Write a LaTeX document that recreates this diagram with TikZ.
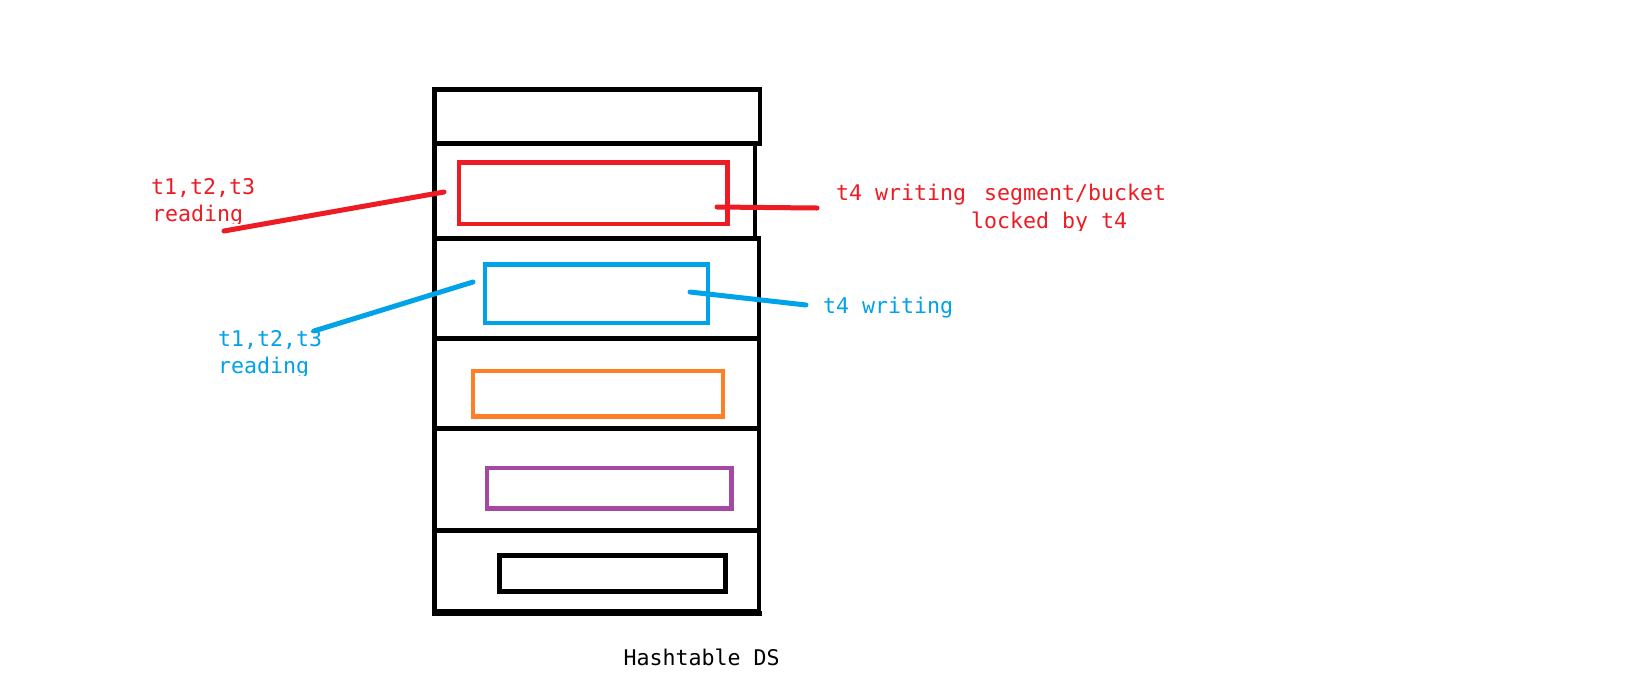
\documentclass[tikz,border=0pt]{standalone}
\usepackage{fontspec}
\newfontfamily\monofont{DejaVu Sans Mono}
\definecolor{pred}{HTML}{ED1C24}
\definecolor{pblue}{HTML}{00A2E8}
\definecolor{porange}{HTML}{FF7F27}
\definecolor{ppurple}{HTML}{A349A4}
\begin{document}
\begin{tikzpicture}[x=1pt,y=-1pt,
  lbl/.style={font=\monofont\fontsize{21.6}{27}\selectfont, anchor=base west, inner sep=0pt, outer sep=0pt},
  tbl/.style={line width=4.8pt, draw=black, line cap=rect, line join=miter},
  slot/.style={line width=4.4pt, fill=none, inner sep=0pt, outer sep=0pt, line join=miter},
  link/.style={line width=5pt, line cap=round}]
\useasboundingbox[fill=white] (0,0) rectangle (1643,686);

% table outline and dividers
\draw[tbl] (434.3,89.8) -- (760,89.8) -- (760,143.8);
\draw[tbl] (755,143.8) -- (755,238.8);
\draw[tbl] (759,238.8) -- (759,611.5);
\draw[tbl] (434.3,89.8) -- (434.3,611.5) -- (759,611.5);
\draw[line width=5pt, line cap=rect] (434.3,613) -- (759.5,613);
\foreach \yy/\xr in {143.8/760, 238.8/759, 338.7/759, 428.5/759, 530.3/759}
  \draw[tbl] (434.3,\yy) -- (\xr,\yy);

% slots
\node[slot, draw=pred,    minimum width=268.5pt, minimum height=61.3pt] (redbox)    at (593.2,193.3) {};
\node[slot, draw=pblue,   minimum width=223pt,   minimum height=58.4pt] (bluebox)   at (596.2,293.5) {};
\node[slot, draw=porange, minimum width=250.5pt, minimum height=45.7pt] (orangebox) at (598,393.7) {};
\node[slot, draw=ppurple, minimum width=244.6pt, minimum height=40.8pt] (purplebox) at (609,488.1) {};
\node[slot, draw=black, line width=4.7pt, minimum width=226pt, minimum height=35.6pt] (blackbox) at (612.7,573.5) {};

% labels
\node[lbl, text=pred] (rr1) at (151,194) {t1,t2,t3};
\begin{scope}
  \clip (100,200) rectangle (400,223.5);
  \node[lbl, text=pred] (rr2) at (152,221) {reading};
\end{scope}
\node[lbl, text=pblue] (br1) at (218,346) {t1,t2,t3};
\begin{scope}
  \clip (150,350) rectangle (400,375.5);
  \node[lbl, text=pblue] (br2) at (218,373) {reading};
\end{scope}
\node[lbl, text=pred] (rw1) at (836,200) {t4 writing\kern5pt{} segment/bucket};
\begin{scope}
  \clip (900,205) rectangle (1200,230.5);
  \node[lbl, text=pred] (rw2) at (971,228.3) {locked by t4};
\end{scope}
\node[lbl, text=pblue] (bw) at (823,313) {t4 writing};
\node[lbl, text=black] (title) at (623.5,665) {Hashtable DS};

% connectors
\coordinate (rA) at (224,231);
\coordinate (rB) at (444,192);
\coordinate (rC) at (717,207);
\coordinate (rK) at (765,207.5);
\coordinate (rD) at (817,208);
\coordinate (bA) at (314,331);
\coordinate (bB) at (473,282);
\coordinate (bC) at (690,292);
\coordinate (bD) at (806,305);
\draw[link, pred] (rA) -- (rB);
\draw[link, pred] (rC) -- (rK) -- (rD);
\draw[link, pblue] (bA) -- (bB);
\draw[link, pblue] (bC) -- (bD);
\end{tikzpicture}
\end{document}
